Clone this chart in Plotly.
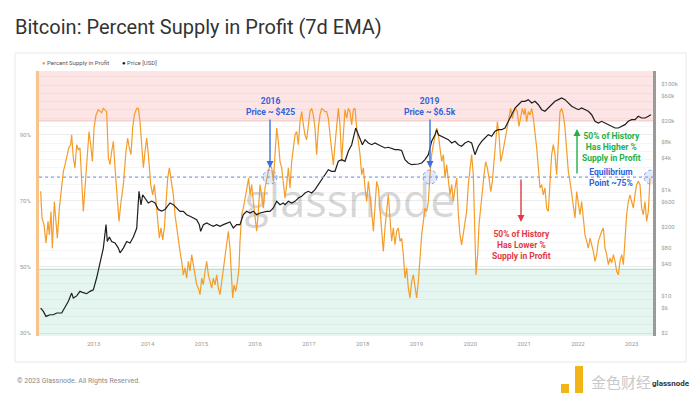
import plotly.graph_objects as go

TITLE = "Bitcoin: Percent Supply in Profit (7d EMA)"

pct_year = [
 2012.014,2012.039,2012.076,2012.113,2012.151,2012.175,2012.206,2012.231,2012.268,2012.299,2012.324,2012.361,2012.405,2012.436,2012.467,2012.498,2012.535,2012.572,2012.590,2012.621,2012.652,2012.683,2012.714,2012.745,2012.776,2012.807,2012.838,2012.869,2012.913,2012.944,2012.975,2013.006,2013.043,2013.086,2013.117,2013.148,2013.179,2013.210,2013.241,2013.272,2013.303,2013.334,2013.365,2013.396,2013.427,2013.470,2013.508,2013.551,2013.600,2013.631,2013.662,2013.693,2013.724,2013.755,2013.799,2013.830,2013.861,2013.892,2013.923,2013.954,2013.985,2014.016,2014.059,2014.096,2014.127,2014.158,2014.189,2014.220,2014.251,2014.282,2014.313,2014.344,2014.375,2014.406,
 2014.449,2014.480,2014.511,2014.542,2014.573,2014.604,2014.635,2014.666,2014.697,2014.728,2014.759,2014.790,2014.821,2014.852,2014.883,2014.914,2014.945,2014.976,2015.007,2015.038,2015.069,2015.100,2015.131,2015.162,2015.193,2015.224,2015.255,2015.286,2015.317,2015.348,2015.379,2015.410,2015.440,2015.472,2015.502,2015.533,2015.564,2015.583,2015.608,2015.639,2015.670,2015.701,2015.719,2015.750,2015.781,2015.812,2015.856,2015.880,2015.905,2015.936,2015.967,2015.998,2016.029,2016.060,2016.091,2016.122,2016.153,2016.184,2016.215,2016.246,2016.277,2016.308,2016.339,2016.370,2016.401,2016.432,2016.463,2016.494,2016.525,
 2016.556,2016.587,2016.618,2016.649,2016.680,2016.711,2016.742,2016.773,2016.804,2016.835,2016.866,2016.897,2016.927,2016.958,2016.989,2017.020,2017.051,2017.082,2017.113,2017.144,2017.175,2017.206,2017.237,2017.268,2017.299,2017.330,2017.361,2017.392,2017.423,2017.454,2017.485,2017.516,2017.547,2017.578,2017.609,2017.640,2017.671,2017.702,2017.733,2017.764,2017.795,2017.826,2017.857,2017.888,2017.919,2017.950,2017.981,2018.012,2018.043,2018.074,2018.105,2018.136,2018.167,2018.198,2018.229,2018.260,2018.291,2018.322,2018.353,2018.383,2018.414,2018.445,2018.476,2018.507,2018.538,2018.569,2018.600,2018.631,2018.662,2018.693,2018.724,2018.755,
 2018.786,2018.817,2018.848,2018.879,2018.910,2018.941,2018.972,2019.003,2019.034,2019.065,2019.096,2019.127,2019.158,2019.189,2019.220,2019.251,2019.282,2019.313,2019.344,2019.375,2019.406,2019.437,2019.468,2019.499,2019.530,2019.561,2019.592,2019.623,2019.654,2019.685,2019.716,2019.747,2019.778,2019.809,2019.839,2019.870,2019.901,2019.932,2019.963,2019.994,2020.025,2020.056,2020.087,2020.106,2020.137,2020.162,2020.193,2020.224,2020.255,2020.286,2020.317,2020.348,2020.379,2020.410,2020.441,2020.472,2020.503,2020.534,2020.565,2020.596,2020.627,2020.657,2020.688,2020.719,2020.750,2020.781,2020.812,2020.843,2020.874,2020.905,2020.936,2020.967,2020.998,
 2021.017,2021.048,2021.079,2021.110,2021.141,2021.172,2021.203,2021.234,2021.265,2021.296,2021.327,2021.358,2021.388,2021.419,2021.450,2021.481,2021.512,2021.543,2021.574,2021.605,2021.636,2021.667,2021.698,2021.729,2021.760,2021.791,2021.822,2021.853,2021.884,2021.915,2021.946,2021.977,2022.008,2022.039,2022.070,2022.101,2022.132,2022.163,2022.194,2022.225,2022.256,2022.287,2022.318,2022.349,2022.380,2022.411,2022.442,2022.473,2022.504,2022.535,2022.566,2022.597,2022.628,2022.659,2022.690,2022.721,2022.752,2022.783,2022.814,2022.845,2022.875,2022.906,2022.937,2022.968,2022.999,2023.030,2023.061,2023.092,2023.123,2023.154,2023.185,2023.216,2023.247,2023.278,2023.309,2023.340,
]
pct_value = [
 72.9,64.8,62.8,57.2,63.8,59.7,66.8,55.7,69.8,61.8,58.7,67.8,74.9,78.9,80.9,83.0,86.0,87.0,90.0,83.0,80.0,87.0,85.4,86.0,77.9,66.8,73.9,81.9,91.0,87.0,81.9,92.0,96.0,97.6,97.0,96.7,98.0,97.6,97.0,83.0,81.0,85.0,88.0,80.0,71.8,63.8,69.8,74.9,85.0,89.0,86.0,84.0,92.0,96.0,98.0,98.0,94.0,88.0,80.0,85.0,89.0,84.0,74.9,71.8,74.9,69.8,62.8,58.7,61.8,58.2,61.8,69.8,76.9,80.0,
 74.9,71.8,65.8,61.8,57.8,54.7,51.7,47.6,49.7,46.6,51.7,48.7,53.7,50.7,47.6,44.6,43.6,41.6,46.6,44.6,48.7,51.7,47.6,45.6,43.6,46.6,44.6,47.6,43.6,41.6,45.6,49.7,53.7,57.8,60.8,55.7,47.6,40.6,44.6,42.6,45.6,49.7,57.8,65.8,67.8,70.8,73.9,76.9,71.8,74.9,69.8,64.8,60.8,66.8,74.9,71.8,67.8,73.9,76.9,78.9,80.9,80.0,75.9,85.0,92.0,88.0,81.9,80.0,74.9,
 70.8,74.9,80.0,73.9,81.9,86.0,90.0,91.0,87.0,94.0,97.0,93.0,90.0,88.5,93.0,97.0,98.0,96.0,92.0,84.0,92.0,96.0,98.0,97.6,97.0,97.0,95.0,90.0,86.0,80.9,87.0,94.0,98.0,93.0,81.9,90.0,97.6,95.0,98.0,97.0,93.0,97.6,98.0,92.0,88.0,84.0,77.9,80.0,73.9,69.8,75.9,71.8,66.8,60.8,67.8,75.9,73.9,66.8,59.7,54.7,61.8,67.8,71.8,64.8,57.8,61.8,56.7,60.8,61.8,57.8,58.7,53.7,
 46.6,49.7,43.6,40.6,45.6,47.6,43.6,40.6,45.6,53.7,59.7,63.8,67.8,66.8,69.8,77.9,84.0,87.0,90.0,92.0,90.0,85.0,81.9,84.0,76.9,80.9,75.9,71.8,74.9,69.8,73.9,76.9,65.8,59.7,56.7,59.7,62.8,66.8,74.9,80.0,84.0,77.9,59.7,47.6,53.7,62.8,67.8,73.9,77.9,81.9,80.0,76.9,72.8,75.9,81.9,90.0,94.0,90.0,81.9,84.0,87.0,90.0,93.0,96.0,98.0,95.0,97.0,98.0,97.0,92.5,95.0,98.0,96.0,
 98.0,94.0,97.0,96.0,98.0,95.0,91.0,86.0,80.0,73.9,74.9,71.8,73.9,67.8,66.8,77.9,84.0,87.0,84.0,77.9,90.0,97.0,98.0,96.0,92.0,85.0,78.9,75.9,71.8,67.8,64.8,72.8,69.8,65.8,69.8,63.8,59.7,57.8,55.7,58.7,56.7,54.7,51.7,53.7,57.8,59.7,60.8,61.8,55.7,53.7,50.7,52.7,51.2,53.7,51.7,48.7,47.6,51.7,53.7,50.7,57.8,65.8,69.8,71.8,69.8,67.8,71.8,74.9,75.9,74.9,67.8,65.8,69.8,63.8,66.8,76.9,
]

price_year = [
 2012.014,2012.064,2012.113,2012.188,2012.250,2012.312,2012.405,2012.467,2012.529,2012.590,2012.621,2012.683,2012.745,2012.807,2012.869,2012.931,2012.993,2013.055,2013.117,2013.179,2013.229,2013.253,2013.291,2013.334,2013.396,2013.458,2013.489,2013.551,2013.613,2013.675,2013.737,2013.799,2013.842,2013.879,2013.910,2013.954,2014.016,2014.078,2014.140,2014.201,2014.263,2014.325,2014.387,
 2014.418,2014.480,2014.542,2014.604,2014.666,2014.728,2014.790,2014.852,2014.914,2014.963,2014.988,2015.038,2015.100,2015.162,2015.224,2015.286,2015.348,2015.410,2015.472,2015.533,2015.595,2015.657,2015.719,2015.781,2015.843,2015.905,2015.967,2016.029,2016.091,2016.153,2016.215,2016.277,2016.339,2016.401,2016.463,2016.525,
 2016.556,2016.618,2016.680,2016.742,2016.804,2016.866,2016.927,2016.989,2017.051,2017.113,2017.175,2017.237,2017.299,2017.361,2017.423,2017.485,2017.547,2017.609,2017.671,2017.733,2017.795,2017.826,2017.870,2017.907,2017.950,2017.994,2018.043,2018.105,2018.167,2018.229,2018.291,2018.353,2018.414,2018.476,2018.538,2018.600,2018.662,2018.724,2018.786,2018.848,2018.910,
 2018.972,2019.034,2019.096,2019.158,2019.220,2019.282,2019.344,2019.375,2019.406,2019.468,2019.530,2019.592,2019.654,2019.716,2019.778,2019.839,2019.901,2019.963,2020.025,2020.087,2020.149,2020.211,2020.273,2020.335,2020.397,2020.459,2020.521,2020.583,2020.645,2020.707,2020.769,2020.831,2020.893,2020.955,
 2021.017,2021.079,2021.141,2021.203,2021.265,2021.327,2021.388,2021.450,2021.512,2021.574,2021.636,2021.698,2021.760,2021.822,2021.884,2021.946,2022.008,2022.070,2022.132,2022.194,2022.256,2022.318,2022.380,2022.442,2022.504,2022.566,2022.628,2022.690,2022.752,2022.814,2022.875,2022.937,2022.999,2023.061,2023.123,2023.185,2023.247,2023.309,2023.358,
]
price_usd = [
 5.9,5.1,4.1,4.4,4.4,4.75,4.75,6.3,7.9,11.3,9.1,10,12.2,11.5,11,12.2,13,22,45,80,222,107,130,107,100,80,65,80,107,100,130,190,950,525,810,700,570,620,570,430,400,430,520,
 570,530,459,397,397,343,320,297,276,222,166,222,239,222,207,222,207,222,239,249,192,222,222,343,397,369,397,343,369,385,397,397,459,613,530,570,
 530,613,570,613,710,763,881,948,881,1019,1259,1574,1959,2434,2265,2265,3500,3760,3500,5410,7210,9640,14900,12000,9640,7210,8980,7760,7210,7760,7210,6730,6250,6450,6060,5810,5810,5600,3760,3250,3020,
 3020,3110,3250,3760,4670,8360,11140,13860,11140,10370,9640,8980,7760,8360,7210,6730,7760,8360,7760,4670,6730,8360,9640,11140,10370,12900,13860,13860,14900,19950,26600,35600,41100,47700,
 47700,51200,44300,47700,41100,33100,30900,35600,41100,47700,51200,55100,51200,44300,38400,35600,33100,35600,33100,30900,26600,19950,18550,19950,18550,17250,16060,14930,14930,16060,17250,19950,21440,21440,24830,23070,23070,24830,26600,
]

year_ticks = list(range(2013, 2024))
pct_ticks = [30, 50, 70, 90]
price_ticks = [2, 6, 10, 40, 80, 200, 600, 1000, 4000, 8000, 20000, 60000, 100000]
price_labels = ["$2", "$6", "$10", "$40", "$80", "$200", "$600", "$1k", "$4k", "$8k", "$20k", "$60k", "$100k"]

equilibrium_pct = 77.2
profit_zone_pct = 94.2
loss_zone_pct = 49.3
marker_2016 = 2016.277
marker_2019 = 2019.251
marker_now = 2023.36

W, H = 700, 404
L, R, T, B = 39, 47, 71, 68
PW, PH = W - L - R, H - T - B
X_RANGE = [2011.983, 2023.396]
Y_RANGE = [29.1, 109.3]
Y2_RANGE = [0.242, 5.251]

def px(x):
    return (x - L) / PW

def py(y):
    return (H - B - y) / PH

ORANGE = "#f49d2a"
BLUE = "#2f62dc"
FONT = "Roboto"

fig = go.Figure()
fig.add_trace(go.Scatter(x=pct_year, y=pct_value, mode="lines",
                         line=dict(color=ORANGE, width=1.2), showlegend=False))
fig.add_trace(go.Scatter(x=price_year, y=price_usd, mode="lines", yaxis="y2",
                         line=dict(color="#1e1e1e", width=1.2), showlegend=False))

shapes = [
    dict(type="rect", xref="paper", yref="paper", x0=px(15), x1=px(686), y0=py(362), y1=py(53),
         line=dict(color="#e9e9e9", width=1), fillcolor="rgba(0,0,0,0)", layer="below"),
    dict(type="rect", xref="paper", yref="y", x0=0, x1=1, y0=profit_zone_pct, y1=Y_RANGE[1],
         line=dict(width=0), fillcolor="#fde5e5", layer="below"),
    dict(type="rect", xref="paper", yref="y", x0=0, x1=1, y0=Y_RANGE[0], y1=loss_zone_pct,
         line=dict(width=0), fillcolor="#e5f5ef", layer="below"),
    dict(type="line", xref="paper", yref="y", x0=0, x1=1, y0=profit_zone_pct, y1=profit_zone_pct,
         line=dict(color="#f4c4c4", width=1), layer="below"),
    dict(type="line", xref="paper", yref="y", x0=0, x1=1, y0=loss_zone_pct, y1=loss_zone_pct,
         line=dict(color="#a9d9c6", width=1), layer="below"),
    dict(type="rect", xref="paper", yref="paper", x0=px(240), x1=px(460), y0=py(225), y1=py(180),
         line=dict(width=0), fillcolor="rgba(0,0,0,0)", layer="between",
         label=dict(text="glassnode", font=dict(family="Open Sans", size=45, color="rgba(150,150,150,0.38)"),
                    textposition="middle center")),
    dict(type="line", xref="paper", yref="y", x0=0, x1=1, y0=equilibrium_pct, y1=equilibrium_pct,
         line=dict(color="#86a2ea", width=1.3, dash="dot")),
]
for xm in [marker_2016, marker_2019, marker_now]:
    shapes.append(dict(type="circle", xref="x", yref="y", xsizemode="pixel", ysizemode="pixel",
                       xanchor=xm, yanchor=equilibrium_pct, x0=-7, x1=7, y0=-7, y1=7,
                       line=dict(color="#7d9be8", width=1, dash="dot"),
                       fillcolor="rgba(125,155,232,0.22)"))
# watermark logo blocks
shapes += [
    dict(type="rect", xref="paper", yref="paper", x0=px(575), x1=px(583), y0=py(393), y1=py(366),
         line=dict(width=0), fillcolor="#f2b416"),
    dict(type="rect", xref="paper", yref="paper", x0=px(561), x1=px(569), y0=py(393), y1=py(384),
         line=dict(width=0), fillcolor="#f2b416"),
]

ann = []
def text(x, y, s, size, color, bold=False, xanchor="center", family=FONT):
    ann.append(dict(xref="paper", yref="paper", x=px(x), y=py(y), text=f"<b>{s}</b>" if bold else s,
                    showarrow=False, xanchor=xanchor, yanchor="middle",
                    font=dict(family=family, size=size, color=color)))

def arrow(x, ytip, ytail, color):
    ann.append(dict(xref="paper", yref="paper", x=px(x), y=py(ytip), ax=0, ay=ytail - ytip,
                    text="", showarrow=True, arrowhead=2, arrowsize=1, arrowwidth=1.4,
                    arrowcolor=color))

text(270, 106.5, "2016<br>Price ~ $425", 8.5, BLUE, True)
text(430, 106.5, "2019<br>Price ~ $6.5k", 8.5, BLUE, True)
arrow(270, 168, 118, "#3b6fe0")
arrow(430, 168, 118, "#3b6fe0")
text(521, 245, "50% of History<br>Has Lower %<br>Supply in Profit", 8.5, "#e23a45", True)
arrow(521, 222, 178, "#e23a45")
text(611, 147, "50% of History<br>Has Higher %<br>Supply in Profit", 8.5, "#22b04b", True)
arrow(577, 129, 175, "#22b04b")
text(611, 177, "Equilibrium<br>Point ~75%", 8.5, BLUE, True)

text(40, 62, f"<span style='color:{ORANGE}'>●</span> Percent Supply in Profit", 6, "#555", xanchor="left")
text(120, 62, "<span style='color:#111'>●</span> Price [USD]", 6, "#555", xanchor="left")
text(15, 381, "© 2023 Glassnode. All Rights Reserved.", 7, "#8a8a8a", xanchor="left")
text(589, 381, "金色财经", 15, "#c9c9c9", xanchor="left", family="Noto Sans CJK SC")
text(692, 383, "<b>glassnode</b>", 8, "#333", xanchor="right")

fig.update_layout(
    width=W, height=H, margin=dict(l=L, r=R, t=T, b=B),
    paper_bgcolor="white", plot_bgcolor="white",
    title=dict(text=TITLE, x=15 / W, xanchor="left", y=1 - 27 / H, yanchor="middle",
               font=dict(family=FONT, size=20, color="#333")),
    xaxis=dict(range=X_RANGE, tickvals=year_ticks, ticktext=[str(y) for y in year_ticks],
               showgrid=False, zeroline=False, ticks="", tickfont=dict(family=FONT, size=6, color="#999"),
               ticklabelstandoff=3),
    yaxis=dict(range=Y_RANGE, tickvals=pct_ticks, ticktext=[f"{v}%" for v in pct_ticks],
               showgrid=True, gridcolor="rgba(0,0,0,0.04)", zeroline=False, ticks="",
               minor=dict(dtick=2.5, tick0=30, showgrid=True, gridcolor="rgba(0,0,0,0.035)"),
               showline=True, linecolor="#f7c58a", linewidth=3,
               tickfont=dict(family=FONT, size=6, color="#999"), ticklabelstandoff=4),
    yaxis2=dict(type="log", range=Y2_RANGE, overlaying="y", side="right",
                tickvals=price_ticks, ticktext=price_labels, showgrid=False, zeroline=False, ticks="",
                showline=True, linecolor="#9a9a9a", linewidth=3,
                tickfont=dict(family=FONT, size=6, color="#999"), ticklabelstandoff=4),
    shapes=shapes, annotations=ann, showlegend=False,
)
fig.write_html("out.html")
